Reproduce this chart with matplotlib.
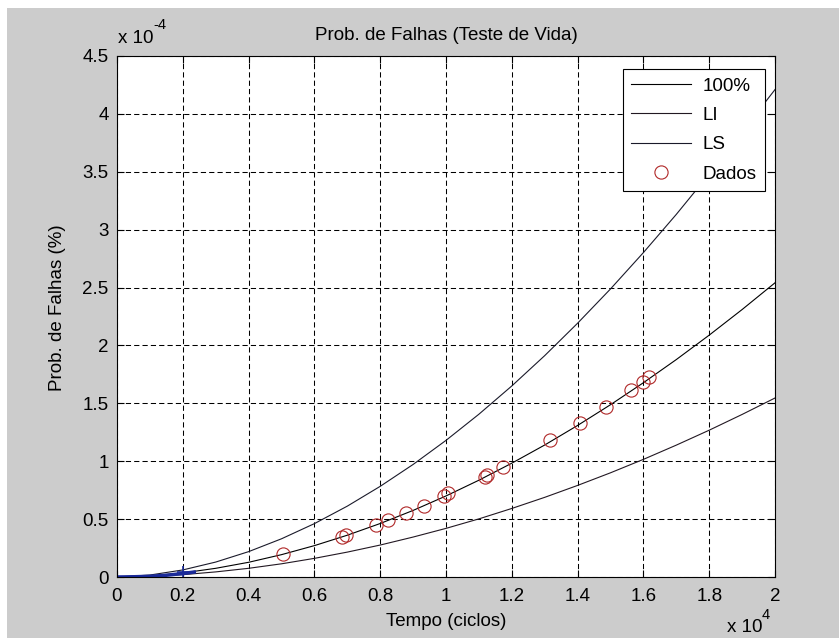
import matplotlib.pyplot as plt
from matplotlib.ticker import FormatStrFormatter
from matplotlib.patches import Rectangle

plt.rcParams['font.family'] = ['Liberation Sans', 'DejaVu Sans']

# tempo em 1e4 ciclos, probabilidades em 1e-4
tempo = [0.0, 0.1, 0.2, 0.3, 0.4, 0.5, 0.6, 0.7, 0.8, 0.9, 1.0,
         1.1, 1.2, 1.3, 1.4, 1.5, 1.6, 1.7, 1.8, 1.9, 2.0]
prob_100 = [0.0, 0.010, 0.035, 0.075, 0.127, 0.193, 0.271, 0.361, 0.462, 0.575, 0.700,
            0.836, 0.983, 1.140, 1.309, 1.488, 1.678, 1.878, 2.089, 2.310, 2.541]
prob_li = [0.0, 0.006, 0.020, 0.044, 0.075, 0.114, 0.161, 0.215, 0.276, 0.345, 0.420,
           0.502, 0.592, 0.688, 0.791, 0.900, 1.016, 1.139, 1.268, 1.404, 1.546]
prob_ls = [0.0, 0.017, 0.061, 0.129, 0.219, 0.330, 0.461, 0.612, 0.783, 0.972, 1.180,
           1.406, 1.650, 1.912, 2.192, 2.488, 2.802, 3.132, 3.480, 3.844, 4.210]

dados_t = [0.505, 0.683, 0.696, 0.787, 0.823, 0.877, 0.932, 0.994, 1.007, 1.119,
           1.124, 1.172, 1.316, 1.407, 1.486, 1.561, 1.598, 1.618]
dados_p = [0.198, 0.347, 0.362, 0.448, 0.489, 0.554, 0.615, 0.701, 0.722, 0.865,
           0.879, 0.951, 1.181, 1.330, 1.468, 1.618, 1.684, 1.727]

inicio_t = [0.0, 0.05, 0.10, 0.15, 0.20, 0.24]
inicio_p = [0.0, 0.002, 0.006, 0.015, 0.030, 0.045]

xticks = [0, 0.2, 0.4, 0.6, 0.8, 1.0, 1.2, 1.4, 1.6, 1.8, 2.0]
yticks = [0, 0.5, 1, 1.5, 2, 2.5, 3, 3.5, 4, 4.5]

fs = 13.5
fig = plt.figure(figsize=(8.39, 6.38), dpi=100, facecolor='#cccccc')
# faixas brancas da janela
fig.patches.append(Rectangle((0, 1 - 8 / 638), 1, 8 / 638, transform=fig.transFigure,
                             facecolor='white', edgecolor='none', zorder=-1))
fig.patches.append(Rectangle((0, 0), 7 / 839, 1, transform=fig.transFigure,
                             facecolor='white', edgecolor='none', zorder=-1))

ax = fig.add_axes([117 / 839, 61 / 638, 658 / 839, 521 / 638])
ax.set_facecolor('white')

ax.plot(tempo, prob_100, color='black', lw=0.8, label='100%')
ax.plot(tempo, prob_li, color='#221822', lw=0.8, label='LI')
ax.plot(tempo, prob_ls, color='#1a1a2a', lw=0.8, label='LS')
ax.plot(dados_t, dados_p, 'o', mfc='none', mec='#b02828', mew=0.8, ms=9.5,
        label='Dados')
ax.plot(inicio_t, inicio_p, color='#1a2a9a', lw=2.5, solid_capstyle='butt')
ax.plot([0.2], [0.04], '+', color='#1a2a9a', ms=8, mew=1.2)

ax.set_xlim(0, 2)
ax.set_ylim(0, 4.5)
ax.set_xticks(xticks)
ax.set_yticks(yticks)
ax.xaxis.set_major_formatter(FormatStrFormatter('%g'))
ax.yaxis.set_major_formatter(FormatStrFormatter('%g'))
ax.tick_params(direction='in', length=5, width=0.8, top=True, right=True,
               labelsize=fs, colors='black')
ax.tick_params(axis='x', pad=8)
ax.tick_params(axis='y', pad=6)
ax.grid(True, color='black', lw=0.75, linestyle=(0, (5, 3)))
for s in ax.spines.values():
    s.set_linewidth(0.8)
    s.set_color('black')

leg = ax.legend(loc='upper right', bbox_to_anchor=(0.985, 0.975), borderaxespad=0,
                fontsize=fs, fancybox=False, framealpha=1, edgecolor='black',
                handlelength=3.2, labelspacing=0.65, borderpad=0.45, handletextpad=0.6)
leg.get_frame().set_linewidth(0.8)

fig.text(446 / 839, 1 - 35 / 638, 'Prob. de Falhas (Teste de Vida)', ha='center',
         va='center', fontsize=fs)
fig.text(446 / 839, 1 - 622 / 638, 'Tempo (ciclos)', ha='center', va='center',
         fontsize=fs)
fig.text(57 / 839, 1 - 308 / 638, 'Prob. de Falhas (%)', ha='center', va='center',
         rotation=90, fontsize=fs)

# multiplicadores dos eixos
fig.text(118 / 839, 1 - 43 / 638, 'x 10', ha='left', va='baseline', fontsize=fs)
fig.text(153 / 839, 1 - 29 / 638, '-4', ha='left', va='baseline', fontsize=10.5)
fig.text(727 / 839, 1 - 632 / 638, 'x 10', ha='left', va='baseline', fontsize=fs)
fig.text(762 / 839, 1 - 619 / 638, '4', ha='left', va='baseline', fontsize=10.5)

fig.savefig('out.png', dpi=100, facecolor=fig.get_facecolor())
